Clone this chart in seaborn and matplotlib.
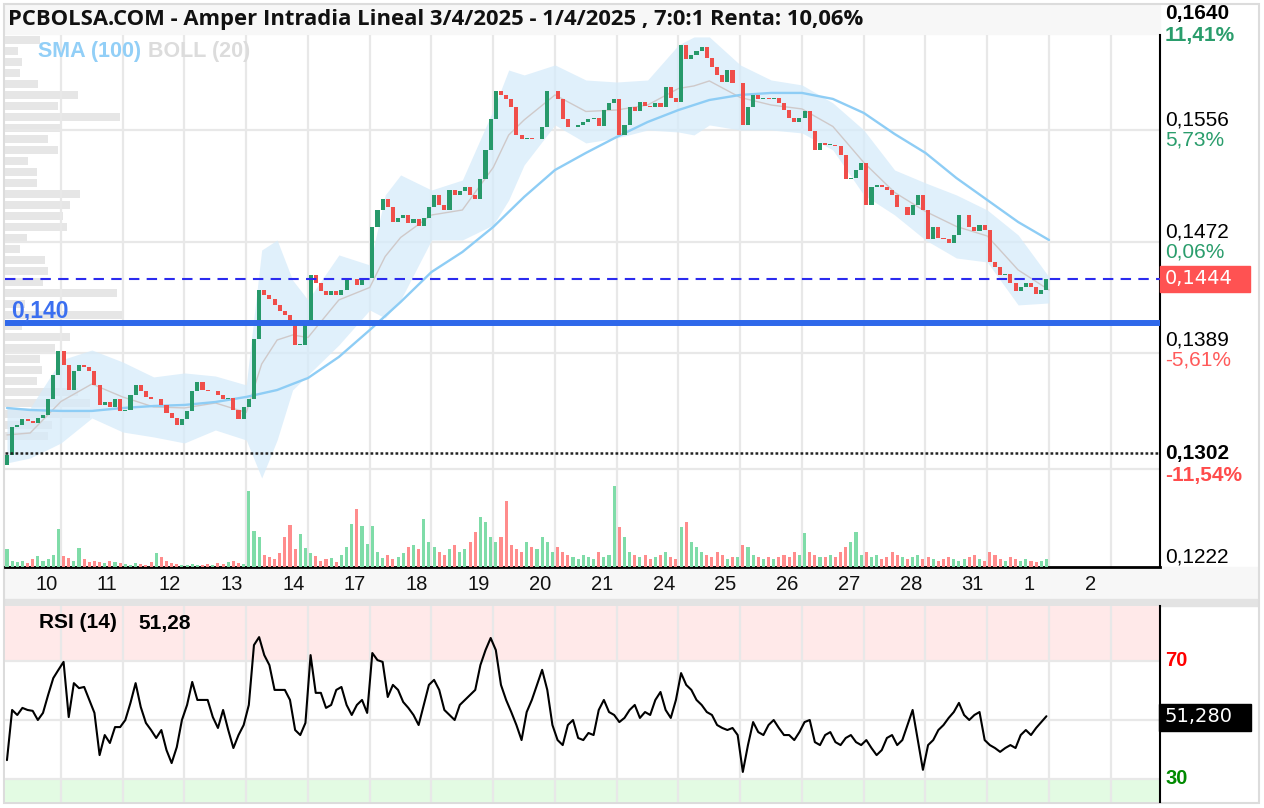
import numpy as np
import pandas as pd
import matplotlib
matplotlib.use('Agg')
import matplotlib.pyplot as plt
from matplotlib.patches import Rectangle
import seaborn as sns

# # Data
#
title = 'PCBOLSA.COM - Amper Intradia Lineal 3/4/2025 - 1/4/2025 , 7:0:1 Renta: 10,06%'
day_labels = ['10', '11', '12', '13', '14', '17', '18', '19', '20', '21',
              '24', '25', '26', '27', '28', '31', '1', '2']

first_open = 0.1305
close_by_day = [
    [0.1312, 0.1333, 0.1335, 0.1339, 0.1338, 0.1336, 0.1340, 0.1342, 0.1354, 0.1372, 0.1390],
    [0.1380, 0.1361, 0.1375, 0.1380, 0.1378, 0.1375, 0.1365, 0.1350, 0.1352, 0.1348, 0.1354, 0.1345],
    [0.1346, 0.1357, 0.1365, 0.1360, 0.1356, 0.1354, 0.1354, 0.1350, 0.1344, 0.1340, 0.1335, 0.1339],
    [0.1345, 0.1360, 0.1367, 0.1361, 0.1360, 0.1360, 0.1357, 0.1354, 0.1355, 0.1346, 0.1339, 0.1348],
    [0.1354, 0.1399, 0.1436, 0.1432, 0.1429, 0.1425, 0.1420, 0.1417, 0.1412, 0.1395, 0.1395, 0.1410],
    [0.1447, 0.1441, 0.1435, 0.1432, 0.1435, 0.1432, 0.1436, 0.1444, 0.1444, 0.1440, 0.1444, 0.1445],
    [0.1483, 0.1496, 0.1504, 0.1498, 0.1487, 0.1490, 0.1492, 0.1486, 0.1489, 0.1484, 0.1490, 0.1498],
    [0.1507, 0.1500, 0.1496, 0.1511, 0.1507, 0.1510, 0.1513, 0.1507, 0.1504, 0.1519, 0.1541, 0.1564],
    [0.1585, 0.1582, 0.1579, 0.1573, 0.1552, 0.1549, 0.1550, 0.1549, 0.1549, 0.1558, 0.1585, 0.1585],
    [0.1579, 0.1564, 0.1558, 0.1558, 0.1560, 0.1562, 0.1564, 0.1565, 0.1559, 0.1571, 0.1576, 0.1579],
    [0.1552, 0.1560, 0.1573, 0.1570, 0.1577, 0.1574, 0.1573, 0.1576, 0.1573, 0.1588, 0.1580, 0.1577],
    [0.1620, 0.1609, 0.1612, 0.1615, 0.1618, 0.1610, 0.1603, 0.1597, 0.1592, 0.1601, 0.1591, 0.1591],
    [0.1560, 0.1573, 0.1582, 0.1579, 0.1580, 0.1579, 0.1580, 0.1576, 0.1571, 0.1565, 0.1562, 0.1565],
    [0.1570, 0.1555, 0.1541, 0.1546, 0.1545, 0.1545, 0.1544, 0.1537, 0.1519, 0.1520, 0.1526, 0.1531],
    [0.1500, 0.1513, 0.1515, 0.1513, 0.1511, 0.1507, 0.1498, 0.1498, 0.1492, 0.1500, 0.1507, 0.1496],
    [0.1474, 0.1483, 0.1475, 0.1474, 0.1471, 0.1477, 0.1492, 0.1492, 0.1483, 0.1480, 0.1485, 0.1481],
    [0.1457, 0.1453, 0.1447, 0.1448, 0.1441, 0.1435, 0.1438, 0.1441, 0.1438, 0.1433, 0.1436, 0.1444],
]

# thousand shares per bar
volume_by_day = [
    [18, 6, 5, 6, 4, 8, 11, 6, 8, 12, 38],
    [11, 9, 6, 19, 8, 5, 6, 5, 4, 6, 5, 4],
    [3, 2, 4, 3, 2, 5, 14, 10, 6, 4, 3, 2],
    [2, 3, 2, 2, 3, 2, 4, 3, 5, 6, 4, 3],
    [76, 36, 30, 12, 10, 8, 14, 30, 42, 18, 33, 19],
    [14, 11, 6, 8, 9, 5, 12, 20, 43, 58, 41, 23],
    [41, 15, 9, 12, 8, 10, 14, 20, 22, 18, 48, 25],
    [20, 15, 12, 18, 22, 15, 18, 25, 35, 50, 45, 30],
    [25, 30, 66, 22, 18, 15, 25, 20, 18, 30, 25, 15],
    [20, 15, 12, 10, 8, 12, 10, 8, 15, 10, 12, 81],
    [40, 30, 15, 12, 10, 12, 8, 10, 12, 15, 10, 8],
    [40, 45, 25, 20, 15, 12, 10, 15, 12, 8, 10, 10],
    [22, 20, 12, 10, 8, 10, 8, 10, 12, 10, 15, 12],
    [34, 15, 12, 10, 10, 12, 10, 15, 20, 25, 35, 12],
    [15, 10, 12, 8, 10, 15, 12, 10, 8, 10, 12, 8],
    [10, 8, 6, 8, 10, 8, 6, 8, 10, 12, 8, 6],
    [15, 12, 8, 6, 10, 8, 6, 8, 6, 5, 6, 8],
]

rsi_by_day = [
    [36.4, 53.4, 51.7, 54.1, 53.4, 53.1, 50.0, 52.4, 58.5, 64.2, 67.0],
    [69.7, 51.0, 62.5, 60.8, 61.2, 56.8, 52.4, 38.1, 44.9, 42.2, 47.6, 47.6],
    [50.0, 55.8, 62.5, 54.4, 49.0, 46.6, 43.9, 46.6, 39.8, 35.4, 40.8, 50.0],
    [55.1, 62.9, 56.8, 56.8, 56.8, 51.0, 47.3, 53.4, 46.6, 40.5, 44.9, 48.3],
    [55.1, 75.4, 78.1, 72.0, 68.6, 60.2, 60.2, 60.2, 56.8, 46.6, 44.9, 49.0],
    [72.0, 59.2, 59.2, 54.1, 55.1, 60.2, 61.2, 55.1, 51.7, 55.1, 56.8, 52.4],
    [72.7, 70.3, 69.7, 57.8, 61.9, 60.2, 56.1, 54.1, 51.7, 48.3, 55.1, 61.9],
    [63.6, 60.2, 53.4, 51.7, 50.0, 55.1, 56.8, 58.5, 60.2, 68.6, 73.7, 77.8],
    [73.7, 61.9, 56.8, 52.7, 48.3, 43.2, 52.7, 56.8, 61.9, 67.0, 60.2, 48.3],
    [43.2, 41.5, 48.3, 50.0, 43.9, 43.2, 45.6, 44.9, 53.4, 56.8, 52.7, 51.7],
    [49.3, 50.7, 53.4, 55.1, 50.7, 52.7, 51.7, 56.8, 59.5, 53.4, 50.7, 56.8],
    [65.9, 61.9, 60.2, 56.8, 55.1, 52.7, 51.7, 48.3, 47.3, 46.6, 47.3, 44.9],
    [32.4, 41.5, 49.3, 45.9, 44.9, 48.3, 50.0, 47.3, 44.9, 44.9, 43.2, 45.9],
    [49.3, 50.0, 42.5, 41.5, 44.9, 45.9, 42.5, 41.5, 43.9, 44.9, 42.5, 41.5],
    [43.2, 40.5, 38.1, 39.8, 43.9, 44.9, 41.5, 43.2, 48.3, 53.4, 43.2, 33.1],
    [41.5, 43.2, 46.6, 48.3, 50.7, 52.7, 55.8, 51.7, 50.0, 51.7, 52.7, 43.2],
    [41.5, 40.5, 39.2, 40.5, 41.5, 40.5, 44.9, 46.6, 44.9, 47.3, 49.3, 51.28],
]

# SMA(100) sampled along the session axis (day index)
sma_t = [0.125, 0.5, 1, 1.5, 2, 2.5, 3, 3.5, 4, 4.5, 5, 5.5, 6, 6.5, 7, 7.5, 8, 8.5,
         9, 9.5, 10, 10.5, 11, 11.5, 12, 12.5, 13, 13.5, 14, 14.5, 15, 15.5, 16, 16.5, 17]
sma_100 = [0.13475, 0.1346, 0.13453, 0.13453, 0.13475, 0.1349, 0.13498, 0.1352, 0.13558,
           0.1361, 0.1370, 0.13858, 0.1406, 0.1427, 0.14495, 0.14645, 0.14833, 0.15058,
           0.1526, 0.15388, 0.15508, 0.1562, 0.1571, 0.15785, 0.15823, 0.15838, 0.15838,
           0.15793, 0.15688, 0.1553, 0.15388, 0.1520, 0.15035, 0.1487, 0.14735]

# Bollinger (20) envelope
boll_t = [0.125, 0.5, 1, 1.5, 2, 2.5, 3, 3.5, 4, 4.25, 4.5, 4.75, 5, 5.5, 6, 6.25, 6.5,
          7, 7.5, 8, 8.25, 8.5, 9, 9.5, 10, 10.5, 11, 11.25, 11.5, 12, 12.5, 13, 13.5,
          14, 14.5, 15, 15.5, 16, 16.5, 17]
boll_upper = [0.13483, 0.13475, 0.13835, 0.1391, 0.1382, 0.13708, 0.13738, 0.13715, 0.13648,
              0.1466, 0.14735, 0.14435, 0.14285, 0.14623, 0.14548, 0.15073, 0.15223,
              0.1511, 0.15185, 0.1571, 0.1601, 0.15973, 0.16048, 0.15935, 0.1592, 0.15935,
              0.16198, 0.16258, 0.16258, 0.16048, 0.15935, 0.15898, 0.15763, 0.1556,
              0.1526, 0.15163, 0.15073, 0.1496, 0.14773, 0.14458]
boll_lower = [0.13063, 0.1310, 0.13213, 0.1340, 0.13295, 0.13258, 0.13213, 0.1331, 0.13235,
              0.1295, 0.13235, 0.1361, 0.13723, 0.13948, 0.1421, 0.1415, 0.14285,
              0.14735, 0.14735, 0.14848, 0.15035, 0.15298, 0.15598, 0.15463, 0.1550, 0.1556,
              0.15545, 0.15523, 0.15598, 0.1556, 0.1556, 0.15538, 0.1541, 0.15073,
              0.14923, 0.14735, 0.1460, 0.1457, 0.14248, 0.14263]

# volume by price (thousand shares), from the top level down
profile_vol = [35, 13, 17, 15, 33, 73, 53, 115, 57, 43, 53, 23, 32, 32, 75, 65, 58, 62,
               22, 15, 40, 43, 38, 112, 20, 118, 17, 65, 50, 35, 37, 32, 73, 85, 85, 47, 43]
profile_top, profile_bottom = 0.16235, 0.13265

support_level = 0.1411
last_price = 0.1444
low_level = 0.1314
grid_prices = [0.1556, 0.1472, 0.1389, 0.1302]
price_labels = ['0,1640', '0,1556', '0,1472', '0,1389', '0,1302', '0,1222']
pct_labels = ['11,41%', '5,73%', '0,06%', '-5,61%', '-11,54%']
last_rsi = 51.28

# # Build the bar table
#
rows = []
for k, (c, v, r) in enumerate(zip(close_by_day, volume_by_day, rsi_by_day)):
    n = len(c)
    for j in range(n):
        rows.append((k + (12 - n + j + 0.5) / 12, c[j], v[j] * 1000, r[j]))
df = pd.DataFrame(rows, columns=['t', 'close', 'volume', 'rsi'])
df['open'] = df['close'].shift(1).fillna(first_open)
df['up'] = df['close'] >= df['open']

# # Figure layout (pixel based)
#
W, H = 1264, 808
GREEN, RED = '#27996a', '#f04e4a'
GRID = '#e8e8e8'

def rect(x0, y0, x1, y1):
    return [x0 / W, 1 - y1 / H, (x1 - x0) / W, (y1 - y0) / H]

def u(px):
    return (px - 61) / 61.75 + 1

def price_at(py):
    return 0.16535 - 0.000075 * py

def rsi_at(py):
    return 50 + (720 - py) / 2.95

sns.set_theme(style='white')
plt.rcParams['font.family'] = ['Liberation Sans', 'DejaVu Sans']

fig = plt.figure(figsize=(W / 100, H / 100), dpi=100)
fig.patch.set_facecolor('white')

# backgrounds: title bar, date strip, separator, frame
fig.patches.append(Rectangle((5 / W, 1 - 34 / H), 1155 / W, 29 / H, transform=fig.transFigure,
                             color='#f7f7f7', zorder=-2))
fig.patches.append(Rectangle((5 / W, 1 - 599 / H), 1253 / W, 32 / H, transform=fig.transFigure,
                             color='#f7f7f7', zorder=-2))
fig.patches.append(Rectangle((5 / W, 1 - 606 / H), 1253 / W, 7 / H, transform=fig.transFigure,
                             color='#e3e3e3', zorder=-2))
fig.patches.append(Rectangle((4 / W, 1 - 803 / H), 1255 / W, 799 / H, transform=fig.transFigure,
                             fill=False, edgecolor='#dcdcdc', lw=1.5, zorder=-1))

xlim = (u(5), u(1160))
ylim = (price_at(567), price_at(35))

# volume profile (underneath everything)
ax_p = fig.add_axes(rect(5, 35, 1160, 567))
ax_p.set_zorder(0)
levels = np.linspace(profile_top, profile_bottom, len(profile_vol))
ax_p.barh(levels, profile_vol, height=0.00066, color='#e6e6e6', lw=0)
ax_p.set_xlim(0, 1155)
ax_p.set_ylim(*ylim)
ax_p.axis('off')

ax = fig.add_axes(rect(5, 35, 1160, 567))
ax.set_zorder(1)
ax.patch.set_alpha(0)
ax.set_xlim(*xlim)
ax.set_ylim(*ylim)

for g in range(1, 19):
    ax.axvline(g, color=GRID, lw=1.6, zorder=0.5)
for gp in grid_prices:
    ax.axhline(gp, color=GRID, lw=1.6, zorder=0.5)

# Bollinger envelope and middle band
up_b = np.array(boll_upper)
lo_b = np.array(boll_lower)
ax.fill_between(boll_t, lo_b, up_b, color='#d6ebfa', alpha=0.75, lw=0, zorder=1)
sns.lineplot(x=boll_t, y=(up_b + lo_b) / 2, ax=ax, color='#cfc9c9', lw=1, zorder=2)

# SMA 100
sns.lineplot(x=sma_t, y=sma_100, ax=ax, color='#8ecdf5', lw=1.7, zorder=3)

# candles
body = (df['close'] - df['open']).abs().clip(lower=0.00005)
ax.bar(df['t'], body, bottom=np.minimum(df['open'], df['close']), width=0.066,
       color=np.where(df['up'], GREEN, RED), lw=0, zorder=4)

# reference lines
ax.axhline(support_level, color='#2f68ea', lw=4.3, zorder=5)
ax.axhline(last_price, color='#2b2bef', lw=1.5, dashes=(5, 3.5), zorder=5)
ax.axhline(low_level, color='#222222', lw=1.8, dashes=(1.1, 0.9), zorder=5)

ax.set_xticks([])
ax.set_yticks([])
ax.set_xlabel('')
ax.set_ylabel('')
for s in ['top', 'left']:
    ax.spines[s].set_visible(False)
ax.spines['right'].set_color('black')
ax.spines['right'].set_linewidth(1.5)
ax.spines['bottom'].set_color('black')
ax.spines['bottom'].set_linewidth(2)

# volume bars
ax_v = ax.twinx()
ax_v.bar(df['t'], df['volume'], width=0.05,
         color=np.where(df['up'], '#7fdca8', '#ff8c8c'), lw=0)
ax_v.set_ylim(0, 532000)
ax_v.set_xlim(*xlim)
ax_v.axis('off')

# # RSI panel
#
ax_r = fig.add_axes(rect(5, 606, 1160, 802))
ax_r.set_xlim(*xlim)
ax_r.set_ylim(rsi_at(802), rsi_at(606))
ax_r.axhspan(70, rsi_at(606), color='#ffe9e9', lw=0, zorder=0)
ax_r.axhspan(rsi_at(802), 30, color='#e3fbe3', lw=0, zorder=0)
for g in range(1, 19):
    ax_r.axvline(g, color=GRID, lw=1.6, zorder=0.5)
for lvl in [30, 50, 70]:
    ax_r.axhline(lvl, color=GRID, lw=1.6, zorder=0.5)
sns.lineplot(x=df['t'], y=df['rsi'], ax=ax_r, color='black', lw=1.5, zorder=3)
ax_r.set_xticks([])
ax_r.set_yticks([])
ax_r.set_xlabel('')
ax_r.set_ylabel('')
for s in ['top', 'left', 'bottom']:
    ax_r.spines[s].set_visible(False)
ax_r.spines['right'].set_color('black')
ax_r.spines['right'].set_linewidth(1.5)

# # Texts
#
def ft(x, y, s, **kw):
    fig.text(x / W, 1 - y / H, s, va='center', **kw)

ft(8, 19, title, fontfamily=['Open Sans', 'DejaVu Sans'], fontweight='bold', fontsize=15.8,
   color='#111111')
ft(38, 52, 'SMA (100)', fontweight='bold', fontsize=15.5, color='#92cff7')
ft(148, 52, 'BOLL (20)', fontweight='bold', fontsize=15.5, color='#dcdcdc')
ft(11, 311, '0,140', fontweight='bold', fontsize=16.5, color='#3b6ff0')

for k, lab in enumerate(day_labels):
    fig.text((61 + 61.75 * (k + 0.58 - 1)) / W, 1 - 585 / H, lab, va='center', ha='left',
             fontsize=14.5, color='#111111')

price_y = [13, 120, 232, 340, 453, 557]
pct_y = [35, 140, 252, 360, 475]
pct_col = ['#2a9d6c', '#2a9d6c', '#2a9d6c', '#ff5a5a', '#ff4c4c']
bold_idx = {0, 4}
for i, lab in enumerate(price_labels):
    ft(1165, price_y[i], lab, fontsize=15, color='black',
       fontweight='bold' if i in bold_idx else 'normal')
for i, lab in enumerate(pct_labels):
    ft(1165, pct_y[i], lab, fontsize=15, color=pct_col[i],
       fontweight='bold' if i in bold_idx else 'normal')

fig.patches.append(Rectangle((1160 / W, 1 - 292 / H), 90 / W, 26 / H,
                             transform=fig.transFigure, color='#ff5252', zorder=3))
ft(1165, 279, f'{last_price:.4f}'.replace('.', ','), fontfamily='DejaVu Sans', fontsize=14,
   color='white', zorder=4)

ft(1165, 660, '70', fontweight='bold', fontsize=14.5, color='#ff0000')
ft(1165, 778, '30', fontweight='bold', fontsize=14.5, color='#008a00')
fig.patches.append(Rectangle((1159 / W, 1 - 731 / H), 92 / W, 27 / H,
                             transform=fig.transFigure, color='black', zorder=3))
ft(1165, 717, f'{last_rsi:.3f}'.replace('.', ','), fontfamily='DejaVu Sans', fontsize=14,
   color='white', zorder=4)
ft(39, 623, 'RSI (14)', fontweight='bold', fontsize=15, color='black')
ft(138, 623, f'{last_rsi:.2f}'.replace('.', ','), fontweight='bold', fontsize=15, color='black')

fig.savefig('out.png', dpi=100)
